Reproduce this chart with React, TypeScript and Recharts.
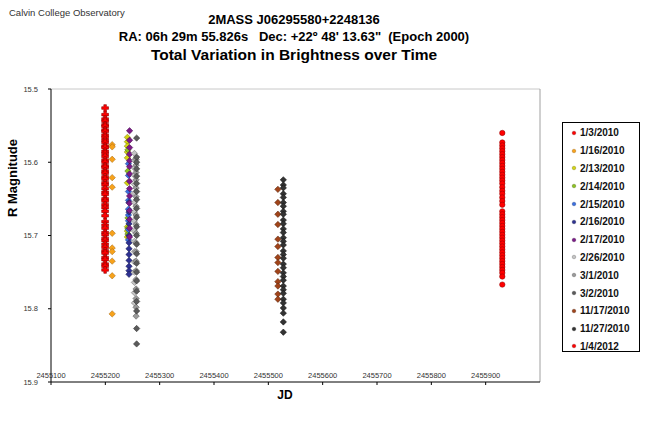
import { ScatterChart, Scatter, XAxis, YAxis, ZAxis, ReferenceLine } from 'recharts';

// Julian dates of each observing night
const jdNights = [
  2455199.6, 2455212.6, 2455240.6, 2455241.6, 2455242.6, 2455243.6, 2455244.6,
  2455253.6, 2455256.6, 2455257.6, 2455517.6, 2455527.6, 2455930.6,
];

const nightLabels = [
  '1/3/2010', '1/16/2010', '2/13/2010', '2/14/2010', '2/15/2010', '2/16/2010', '2/17/2010',
  '2/26/2010', '3/1/2010', '3/2/2010', '11/17/2010', '11/27/2010', '1/4/2012',
];

const nightColors = [
  '#ff0000', '#f7a21b', '#d4d414', '#8fc31f', '#3a6fe0', '#2e3192', '#7b1a86',
  '#c4c4c4', '#9a9a9a', '#5a5a5a', '#a0441a', '#333333', '#ff0000',
];

const nightStrokes = [
  '#8b0000', '#a0620a', '#7a7a00', '#4a6a10', '#1c3a80', '#15184a', '#40084a',
  '#6a6a6a', '#505050', '#2a2a2a', '#501e08', '#111111', '#8b0000',
];

const nightShapes = [
  'cross', 'diamond', 'diamond', 'diamond', 'diamond', 'diamond', 'diamond',
  'diamond', 'diamond', 'diamond', 'diamond', 'diamond', 'circle',
];

// R magnitudes
const mag0103 = [
  15.526, 15.535, 15.541, 15.544, 15.549, 15.551, 15.556, 15.558, 15.563, 15.566, 15.570,
  15.573, 15.578, 15.580, 15.585, 15.588, 15.592, 15.597, 15.600, 15.605, 15.607, 15.612,
  15.615, 15.620, 15.623, 15.628, 15.631, 15.636, 15.641, 15.644, 15.650, 15.653, 15.658,
  15.662, 15.667, 15.673, 15.681, 15.686, 15.690, 15.696, 15.699, 15.704, 15.707, 15.712,
  15.716, 15.721, 15.724, 15.730, 15.733, 15.739, 15.742, 15.747,
];
const mag0116 = [15.576, 15.579, 15.596, 15.621, 15.634, 15.697, 15.717, 15.722, 15.735, 15.755, 15.807];
const mag0213 = [15.566, 15.572, 15.578, 15.586, 15.594, 15.628, 15.688, 15.694, 15.702];
const mag0214 = [15.583, 15.612, 15.676, 15.690, 15.698];
const mag0215 = [15.602, 15.618, 15.640, 15.652, 15.664, 15.672, 15.680, 15.692, 15.706];
const mag0216 = [15.655, 15.668, 15.684, 15.700, 15.710, 15.718, 15.726, 15.734, 15.742, 15.748, 15.753];
const mag0217 = [
  15.557, 15.570, 15.580, 15.589, 15.598, 15.606, 15.616, 15.626, 15.636, 15.646, 15.656,
  15.666, 15.678, 15.690, 15.702,
];
const mag0226 = [
  15.588, 15.597, 15.608, 15.618, 15.630, 15.642, 15.655, 15.668, 15.680, 15.694, 15.708,
  15.722, 15.736, 15.750, 15.764, 15.778, 15.792,
];
const mag0301 = [
  15.596, 15.604, 15.614, 15.624, 15.635, 15.647, 15.660, 15.672, 15.685, 15.697, 15.710,
  15.722, 15.735, 15.748, 15.760, 15.773, 15.786, 15.798, 15.810,
];
const mag0302 = [
  15.567, 15.593, 15.600, 15.609, 15.619, 15.629, 15.640, 15.651, 15.663, 15.675, 15.688,
  15.700, 15.712, 15.725, 15.738, 15.750, 15.762, 15.776, 15.790, 15.803, 15.827, 15.848,
];
const mag1117 = [
  15.637, 15.655, 15.671, 15.685, 15.705, 15.715, 15.730, 15.737, 15.749, 15.763, 15.769,
  15.780, 15.787,
];
const mag1127 = [
  15.624, 15.631, 15.635, 15.643, 15.648, 15.655, 15.660, 15.667, 15.671, 15.679, 15.684,
  15.691, 15.696, 15.703, 15.708, 15.713, 15.721, 15.726, 15.731, 15.739, 15.744, 15.751,
  15.756, 15.761, 15.769, 15.774, 15.779, 15.787, 15.792, 15.799, 15.806, 15.818, 15.832,
];
const mag0104 = [
  15.560, 15.573, 15.577, 15.581, 15.585, 15.589, 15.593, 15.597, 15.601, 15.605, 15.609,
  15.613, 15.617, 15.621, 15.625, 15.629, 15.634, 15.639, 15.643, 15.648, 15.653, 15.658,
  15.667, 15.671, 15.675, 15.679, 15.683, 15.687, 15.691, 15.695, 15.699, 15.703, 15.707,
  15.711, 15.715, 15.719, 15.723, 15.727, 15.731, 15.735, 15.739, 15.743, 15.747, 15.751,
  15.756, 15.767,
];

const nightMags = [
  mag0103, mag0116, mag0213, mag0214, mag0215, mag0216, mag0217,
  mag0226, mag0301, mag0302, mag1117, mag1127, mag0104,
];

const xTicks = [2455100, 2455200, 2455300, 2455400, 2455500, 2455600, 2455700, 2455800, 2455900];
const yTicks = [15.5, 15.6, 15.7, 15.8, 15.9];

const FONT = 'Arial, "Liberation Sans", sans-serif';
const NARROW = '"Liberation Sans Narrow", Arial, "Liberation Sans", sans-serif';

const series = nightLabels.map((name, i) => ({
  name,
  color: nightColors[i],
  stroke: nightStrokes[i],
  shape: nightShapes[i],
  data: nightMags[i].map((mag) => ({ jd: jdNights[i], mag })),
}));

function makeMarker(kind: string, fill: string, stroke: string) {
  return (props: any) => {
    const { cx, cy } = props;
    if (cx == null || cy == null) return <g />;
    if (kind === 'cross') {
      const a = 3.4;
      const w = 1.3;
      const d = `M${cx - w},${cy - a}H${cx + w}V${cy - w}H${cx + a}V${cy + w}H${cx + w}V${cy + a}H${cx - w}V${cy + w}H${cx - a}V${cy - w}H${cx - w}Z`;
      return <path d={d} fill={fill} stroke={stroke} strokeWidth={0.6} />;
    }
    if (kind === 'circle') {
      return <circle cx={cx} cy={cy} r={2.7} fill={fill} stroke={stroke} strokeWidth={0.5} />;
    }
    const r = 3.2;
    const d = `M${cx},${cy - r}L${cx + r},${cy}L${cx},${cy + r}L${cx - r},${cy}Z`;
    return <path d={d} fill={fill} stroke={stroke} strokeWidth={0.5} />;
  };
}

function XTick({ x, y, payload }: any) {
  return (
    <text x={x} y={y - 9} textAnchor="middle" fontSize={7.5} fill="#333" fontFamily={NARROW}>
      {payload.value}
    </text>
  );
}

export default function App() {
  return (
    <div style={{ position: 'absolute', left: 0, top: 0, width: 654, height: 438, background: '#fff', fontFamily: FONT }}>
      <div style={{ position: 'absolute', left: 9, top: 7, fontSize: 9.5, color: '#333', fontFamily: NARROW }}>
        Calvin College Observatory
      </div>
      <div style={{ position: 'absolute', left: 0, width: 588, top: 12, textAlign: 'center', fontWeight: 'bold', fontSize: 13, lineHeight: '16px', fontFamily: NARROW }}>
        2MASS J06295580+2248136
      </div>
      <div style={{ position: 'absolute', left: 0, width: 588, top: 29, textAlign: 'center', fontWeight: 'bold', fontSize: 13, lineHeight: '16px', fontFamily: NARROW, whiteSpace: 'pre' }}>
        {'RA: 06h 29m 55.826s   Dec: +22º 48\' 13.63"  (Epoch 2000)'}
      </div>
      <div style={{ position: 'absolute', left: 0, width: 588, top: 46, textAlign: 'center', fontWeight: 'bold', fontSize: 15.5, lineHeight: '18px' }}>
        Total Variation in Brightness over Time
      </div>

      <ScatterChart width={654} height={438} margin={{ top: 89, right: 114, bottom: 36, left: 31 }}>
        <XAxis
          type="number"
          dataKey="jd"
          domain={[2455100, 2456000]}
          ticks={xTicks}
          interval={0}
          allowDataOverflow
          height={20}
          tickSize={3}
          tick={<XTick />}
          axisLine={{ stroke: '#000' }}
          tickLine={{ stroke: '#000' }}
        />
        <YAxis
          type="number"
          dataKey="mag"
          domain={[15.5, 15.9]}
          reversed
          ticks={yTicks}
          interval={0}
          allowDataOverflow
          width={20}
          tickSize={3}
          tickMargin={10}
          tickFormatter={(v: number) => v.toFixed(1)}
          tick={{ fontSize: 7.5, fill: '#333', fontFamily: NARROW }}
          axisLine={{ stroke: '#000' }}
          tickLine={{ stroke: '#000' }}
        />
        <ZAxis range={[30, 30]} />
        <ReferenceLine y={15.5} stroke="#c8c8c8" />
        <ReferenceLine x={2456000} stroke="#a0a0a0" />
        {series.map((s) => (
          <Scatter
            key={s.name}
            name={s.name}
            data={s.data}
            fill={s.color}
            shape={makeMarker(s.shape, s.color, s.stroke)}
            isAnimationActive={false}
          />
        ))}
      </ScatterChart>

      <div
        style={{
          position: 'absolute', left: 3, top: 178, transform: 'translate(-50%, -50%) rotate(-90deg)',
          marginLeft: 9, fontWeight: 'bold', fontSize: 13, whiteSpace: 'nowrap',
        }}
      >
        R Magnitude
      </div>
      <div style={{ position: 'absolute', left: 270, width: 30, top: 388, textAlign: 'center', fontWeight: 'bold', fontSize: 12 }}>
        JD
      </div>

      <div
        style={{
          position: 'absolute', left: 562, top: 122, width: 78, height: 230, border: '1px solid #000',
          boxSizing: 'border-box', paddingTop: 1,
        }}
      >
        {series.map((s) => (
          <div key={s.name} style={{ height: 17.8, display: 'flex', alignItems: 'center', fontSize: 10, fontWeight: 'bold', color: '#111' }}>
            <svg width={17} height={8} style={{ flex: 'none' }}>
              <circle cx={11} cy={4} r={1.8} fill={s.color} stroke={s.stroke} strokeWidth={0.4} />
            </svg>
            <span>{s.name}</span>
          </div>
        ))}
      </div>
    </div>
  );
}
